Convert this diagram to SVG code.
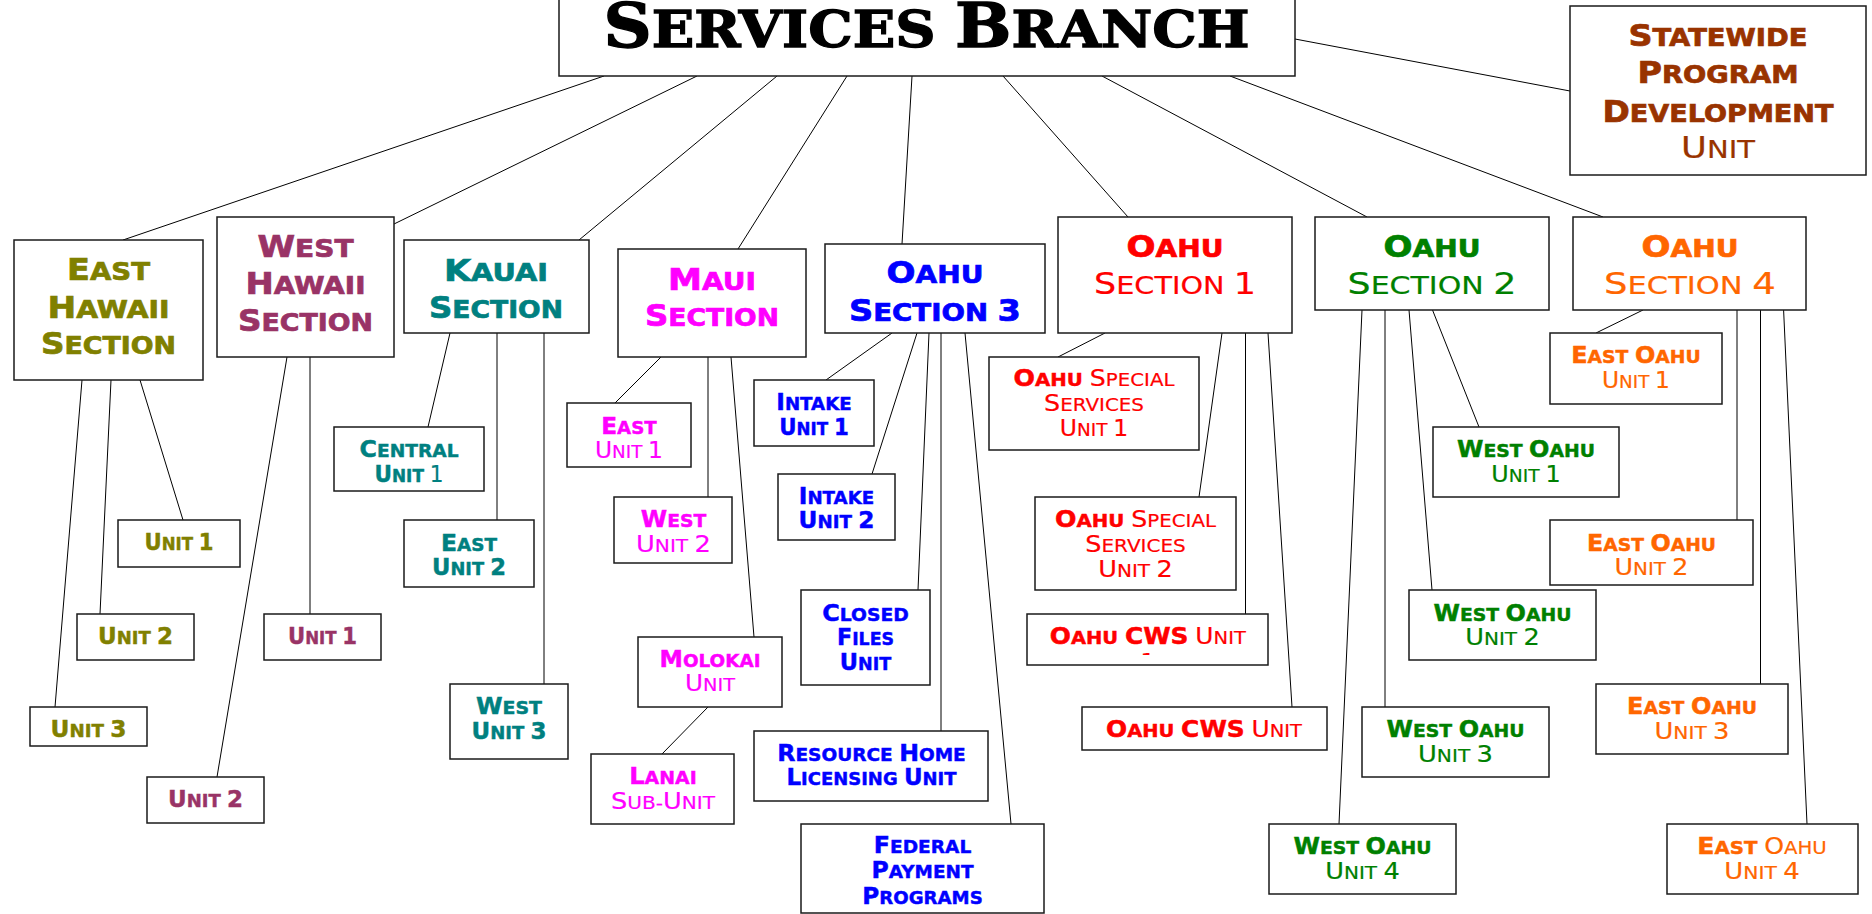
<svg xmlns="http://www.w3.org/2000/svg" width="1872" height="914" viewBox="0 0 1872 914">
<style>
text{font-family:"DejaVu Sans","Liberation Sans",sans-serif;font-weight:700;text-anchor:middle}
.t{font-family:"DejaVu Serif","Liberation Serif",serif;font-size:51px;fill:#000;stroke:#000;stroke-width:1.3}
.t .k{font-size:61px}
.s{font-size:24.5px;stroke-width:0.7}
.s .k{font-size:29.8px}
.u{font-size:18px;stroke-width:0.45}
.u .k{font-size:23px}
.r{font-weight:400;stroke-width:0.2}
.box{fill:#fff;stroke:#1a1a1a;stroke-width:1.5}
#connectors line{stroke:#000;stroke-width:1}
.ol{fill:#808000;stroke:#808000}.pl{fill:#993366;stroke:#993366}.tl{fill:#008080;stroke:#008080}.mg{fill:#FF00FF;stroke:#FF00FF}.bl{fill:#0000FF;stroke:#0000FF}.rd{fill:#FF0000;stroke:#FF0000}.gr{fill:#008000;stroke:#008000}.or{fill:#FF6600;stroke:#FF6600}.br{fill:#993300;stroke:#993300}
</style>
<defs>
<clipPath id="cwsclip"><rect x="1027" y="614" width="241" height="41"/></clipPath>
</defs>
<rect width="1872" height="914" fill="#fff"/>
<g id="connectors">
<line x1="604" y1="76" x2="123" y2="240"/>
<line x1="697" y1="76" x2="394" y2="224"/>
<line x1="777" y1="76" x2="579" y2="240"/>
<line x1="847" y1="76" x2="738" y2="249"/>
<line x1="912" y1="76" x2="902" y2="244"/>
<line x1="1003" y1="76" x2="1128" y2="217"/>
<line x1="1102" y1="76" x2="1367" y2="217"/>
<line x1="1230" y1="76" x2="1603" y2="217"/>
<line x1="1295" y1="39" x2="1570" y2="91"/>
<line x1="140" y1="380" x2="183" y2="520"/>
<line x1="111" y1="380" x2="100" y2="614"/>
<line x1="82" y1="380" x2="55" y2="707"/>
<line x1="310" y1="357" x2="310" y2="614"/>
<line x1="287" y1="357" x2="217" y2="777"/>
<line x1="450" y1="333" x2="428" y2="427"/>
<line x1="497" y1="333" x2="497" y2="520"/>
<line x1="544" y1="333" x2="544" y2="684"/>
<line x1="661" y1="357" x2="615" y2="403"/>
<line x1="708" y1="357" x2="708" y2="497"/>
<line x1="731" y1="357" x2="754" y2="637"/>
<line x1="708" y1="707" x2="662" y2="754"/>
<line x1="892" y1="333" x2="826" y2="380"/>
<line x1="917" y1="333" x2="872" y2="474"/>
<line x1="929" y1="333" x2="918" y2="590"/>
<line x1="941" y1="333" x2="941" y2="731"/>
<line x1="965" y1="333" x2="1011" y2="824"/>
<line x1="1105" y1="333" x2="1058" y2="357"/>
<line x1="1222" y1="333" x2="1199" y2="497"/>
<line x1="1245.5" y1="333" x2="1245.5" y2="614"/>
<line x1="1268" y1="333" x2="1292" y2="707"/>
<line x1="1432.5" y1="310" x2="1479" y2="427"/>
<line x1="1409" y1="310" x2="1432" y2="590"/>
<line x1="1385" y1="310" x2="1385" y2="707"/>
<line x1="1362" y1="310" x2="1339" y2="824"/>
<line x1="1643" y1="310" x2="1596" y2="333"/>
<line x1="1737" y1="310" x2="1737" y2="520"/>
<line x1="1760.5" y1="310" x2="1760.5" y2="684"/>
<line x1="1783.6" y1="310" x2="1807" y2="824"/>
</g>

<g id="services-branch">
<rect class="box" x="559" y="-5" width="736" height="81"/>
<text class="t" x="926.5" y="47" textLength="646" lengthAdjust="spacingAndGlyphs"><tspan class="k">S</tspan>ERVICES <tspan class="k">B</tspan>RANCH</text>
</g>

<g id="statewide">
<rect class="box" x="1570" y="6" width="296" height="169"/>
<text class="s br" x="1718" y="46" textLength="179" lengthAdjust="spacingAndGlyphs"><tspan class="k">S</tspan>TATEWIDE</text>
<text class="s br" x="1718" y="83" textLength="161" lengthAdjust="spacingAndGlyphs"><tspan class="k">P</tspan>ROGRAM</text>
<text class="s br" x="1718" y="122" textLength="231" lengthAdjust="spacingAndGlyphs"><tspan class="k">D</tspan>EVELOPMENT</text>
<text class="s br" x="1718" y="158" textLength="74" lengthAdjust="spacingAndGlyphs"><tspan class="r"><tspan class="k">U</tspan>NIT</tspan></text>
</g>

<g id="east-hawaii">
<rect class="box" x="14" y="240" width="189" height="140"/>
<text class="s ol" x="108.5" y="280" textLength="83" lengthAdjust="spacingAndGlyphs"><tspan class="k">E</tspan>AST</text>
<text class="s ol" x="108.5" y="318" textLength="122" lengthAdjust="spacingAndGlyphs"><tspan class="k">H</tspan>AWAII</text>
<text class="s ol" x="108.5" y="354" textLength="135" lengthAdjust="spacingAndGlyphs"><tspan class="k">S</tspan>ECTION</text>
</g>
<g id="west-hawaii">
<rect class="box" x="217" y="217" width="177" height="140"/>
<text class="s pl" x="305.5" y="257" textLength="96" lengthAdjust="spacingAndGlyphs"><tspan class="k">W</tspan>EST</text>
<text class="s pl" x="305.5" y="294" textLength="120" lengthAdjust="spacingAndGlyphs"><tspan class="k">H</tspan>AWAII</text>
<text class="s pl" x="305.5" y="331" textLength="135" lengthAdjust="spacingAndGlyphs"><tspan class="k">S</tspan>ECTION</text>
</g>
<g id="kauai">
<rect class="box" x="404" y="240" width="185" height="93"/>
<text class="s tl" x="496" y="281" textLength="104" lengthAdjust="spacingAndGlyphs"><tspan class="k">K</tspan>AUAI</text>
<text class="s tl" x="496" y="318" textLength="134" lengthAdjust="spacingAndGlyphs"><tspan class="k">S</tspan>ECTION</text>
</g>
<g id="maui">
<rect class="box" x="618" y="249" width="188" height="108"/>
<text class="s mg" x="712" y="290" textLength="88" lengthAdjust="spacingAndGlyphs"><tspan class="k">M</tspan>AUI</text>
<text class="s mg" x="712" y="326" textLength="134" lengthAdjust="spacingAndGlyphs"><tspan class="k">S</tspan>ECTION</text>
</g>
<g id="oahu-3">
<rect class="box" x="825" y="244" width="220" height="89"/>
<text class="s bl" x="935" y="283" textLength="97" lengthAdjust="spacingAndGlyphs"><tspan class="k">O</tspan>AHU</text>
<text class="s bl" x="935" y="321" textLength="172" lengthAdjust="spacingAndGlyphs"><tspan class="k">S</tspan>ECTION <tspan class="k">3</tspan></text>
</g>
<g id="oahu-1">
<rect class="box" x="1058" y="217" width="234" height="116"/>
<text class="s rd" x="1175" y="257" textLength="97" lengthAdjust="spacingAndGlyphs"><tspan class="k">O</tspan>AHU</text>
<text class="s rd" x="1175" y="294" textLength="162" lengthAdjust="spacingAndGlyphs"><tspan class="r"><tspan class="k">S</tspan>ECTION <tspan class="k">1</tspan></tspan></text>
</g>
<g id="oahu-2">
<rect class="box" x="1315" y="217" width="234" height="93"/>
<text class="s gr" x="1432" y="257" textLength="97" lengthAdjust="spacingAndGlyphs"><tspan class="k">O</tspan>AHU</text>
<text class="s gr" x="1432" y="294" textLength="169" lengthAdjust="spacingAndGlyphs"><tspan class="r"><tspan class="k">S</tspan>ECTION <tspan class="k">2</tspan></tspan></text>
</g>
<g id="oahu-4">
<rect class="box" x="1573" y="217" width="233" height="93"/>
<text class="s or" x="1690" y="257" textLength="97" lengthAdjust="spacingAndGlyphs"><tspan class="k">O</tspan>AHU</text>
<text class="s or" x="1690" y="294" textLength="172" lengthAdjust="spacingAndGlyphs"><tspan class="r"><tspan class="k">S</tspan>ECTION <tspan class="k">4</tspan></tspan></text>
</g>

<g id="eh-unit-1">
<rect class="box" x="118" y="520" width="122" height="47"/>
<text class="u ol" x="179" y="550" textLength="69" lengthAdjust="spacingAndGlyphs"><tspan class="k">U</tspan>NIT <tspan class="k">1</tspan></text>
</g>
<g id="eh-unit-2">
<rect class="box" x="77" y="614" width="117" height="46"/>
<text class="u ol" x="135.5" y="644" textLength="75" lengthAdjust="spacingAndGlyphs"><tspan class="k">U</tspan>NIT <tspan class="k">2</tspan></text>
</g>
<g id="eh-unit-3">
<rect class="box" x="30" y="707" width="117" height="39"/>
<text class="u ol" x="88.5" y="737" textLength="76" lengthAdjust="spacingAndGlyphs"><tspan class="k">U</tspan>NIT <tspan class="k">3</tspan></text>
</g>
<g id="wh-unit-1">
<rect class="box" x="264" y="614" width="117" height="46"/>
<text class="u pl" x="322.5" y="644" textLength="69" lengthAdjust="spacingAndGlyphs"><tspan class="k">U</tspan>NIT <tspan class="k">1</tspan></text>
</g>
<g id="wh-unit-2">
<rect class="box" x="147" y="777" width="117" height="46"/>
<text class="u pl" x="205.5" y="807" textLength="75" lengthAdjust="spacingAndGlyphs"><tspan class="k">U</tspan>NIT <tspan class="k">2</tspan></text>
</g>

<g id="kauai-central-1">
<rect class="box" x="334" y="427" width="150" height="64"/>
<text class="u tl" x="409" y="457" textLength="99" lengthAdjust="spacingAndGlyphs"><tspan class="k">C</tspan>ENTRAL</text>
<text class="u tl" x="409" y="482" textLength="69" lengthAdjust="spacingAndGlyphs"><tspan class="k">U</tspan>NIT <tspan class="k r">1</tspan></text>
</g>
<g id="kauai-east-2">
<rect class="box" x="404" y="520" width="130" height="67"/>
<text class="u tl" x="469" y="551" textLength="56" lengthAdjust="spacingAndGlyphs"><tspan class="k">E</tspan>AST</text>
<text class="u tl" x="469" y="575" textLength="74" lengthAdjust="spacingAndGlyphs"><tspan class="k">U</tspan>NIT <tspan class="k">2</tspan></text>
</g>
<g id="kauai-west-3">
<rect class="box" x="450" y="684" width="118" height="75"/>
<text class="u tl" x="509" y="714" textLength="66" lengthAdjust="spacingAndGlyphs"><tspan class="k">W</tspan>EST</text>
<text class="u tl" x="509" y="739" textLength="75" lengthAdjust="spacingAndGlyphs"><tspan class="k">U</tspan>NIT <tspan class="k">3</tspan></text>
</g>

<g id="maui-east-1">
<rect class="box" x="567" y="403" width="124" height="64"/>
<text class="u mg" x="629" y="433.5" textLength="55.5" lengthAdjust="spacingAndGlyphs"><tspan class="k">E</tspan>AST</text>
<text class="u mg" x="629" y="458" textLength="68" lengthAdjust="spacingAndGlyphs"><tspan class="r"><tspan class="k">U</tspan>NIT <tspan class="k">1</tspan></tspan></text>
</g>
<g id="maui-west-2">
<rect class="box" x="614" y="497" width="118" height="66"/>
<text class="u mg" x="673.5" y="527" textLength="65.5" lengthAdjust="spacingAndGlyphs"><tspan class="k">W</tspan>EST</text>
<text class="u mg" x="673.5" y="552" textLength="75" lengthAdjust="spacingAndGlyphs"><tspan class="r"><tspan class="k">U</tspan>NIT <tspan class="k">2</tspan></tspan></text>
</g>
<g id="molokai">
<rect class="box" x="638" y="637" width="144" height="70"/>
<text class="u mg" x="710" y="667" textLength="101" lengthAdjust="spacingAndGlyphs"><tspan class="k">M</tspan>OLOKAI</text>
<text class="u mg" x="710" y="691" textLength="50" lengthAdjust="spacingAndGlyphs"><tspan class="r"><tspan class="k">U</tspan>NIT</tspan></text>
</g>
<g id="lanai">
<rect class="box" x="591" y="754" width="143" height="70"/>
<text class="u mg" x="663" y="784" textLength="67.5" lengthAdjust="spacingAndGlyphs"><tspan class="k">L</tspan>ANAI</text>
<text class="u mg" x="663" y="809" textLength="104" lengthAdjust="spacingAndGlyphs"><tspan class="r"><tspan class="k">S</tspan>UB-<tspan class="k">U</tspan>NIT</tspan></text>
</g>

<g id="intake-1">
<rect class="box" x="754" y="380" width="120" height="66"/>
<text class="u bl" x="814" y="410" textLength="75.5" lengthAdjust="spacingAndGlyphs"><tspan class="k">I</tspan>NTAKE</text>
<text class="u bl" x="814" y="435" textLength="69.5" lengthAdjust="spacingAndGlyphs"><tspan class="k">U</tspan>NIT <tspan class="k">1</tspan></text>
</g>
<g id="intake-2">
<rect class="box" x="778" y="474" width="117" height="66"/>
<text class="u bl" x="836.5" y="504" textLength="75.5" lengthAdjust="spacingAndGlyphs"><tspan class="k">I</tspan>NTAKE</text>
<text class="u bl" x="836.5" y="528" textLength="76" lengthAdjust="spacingAndGlyphs"><tspan class="k">U</tspan>NIT <tspan class="k">2</tspan></text>
</g>
<g id="closed-files">
<rect class="box" x="801" y="590" width="129" height="95"/>
<text class="u bl" x="865.5" y="620.5" textLength="86.5" lengthAdjust="spacingAndGlyphs"><tspan class="k">C</tspan>LOSED</text>
<text class="u bl" x="865.5" y="645" textLength="57" lengthAdjust="spacingAndGlyphs"><tspan class="k">F</tspan>ILES</text>
<text class="u bl" x="865.5" y="670" textLength="51.5" lengthAdjust="spacingAndGlyphs"><tspan class="k">U</tspan>NIT</text>
</g>
<g id="resource-home">
<rect class="box" x="754" y="731" width="234" height="70"/>
<text class="u bl" x="871.5" y="761" textLength="188.5" lengthAdjust="spacingAndGlyphs"><tspan class="k">R</tspan>ESOURCE <tspan class="k">H</tspan>OME</text>
<text class="u bl" x="871.5" y="785" textLength="170" lengthAdjust="spacingAndGlyphs"><tspan class="k">L</tspan>ICENSING <tspan class="k">U</tspan>NIT</text>
</g>
<g id="federal-payment">
<rect class="box" x="801" y="824" width="243" height="89"/>
<text class="u bl" x="922.5" y="853" textLength="97.5" lengthAdjust="spacingAndGlyphs"><tspan class="k">F</tspan>EDERAL</text>
<text class="u bl" x="922.5" y="878" textLength="102" lengthAdjust="spacingAndGlyphs"><tspan class="k">P</tspan>AYMENT</text>
<text class="u bl" x="922.5" y="903.5" textLength="120.5" lengthAdjust="spacingAndGlyphs"><tspan class="k">P</tspan>ROGRAMS</text>
</g>

<g id="special-1">
<rect class="box" x="989" y="357" width="210" height="93"/>
<text class="u rd" x="1094" y="386" textLength="161" lengthAdjust="spacingAndGlyphs"><tspan class="k">O</tspan>AHU <tspan class="r"><tspan class="k">S</tspan>PECIAL</tspan></text>
<text class="u rd" x="1094" y="411" textLength="100" lengthAdjust="spacingAndGlyphs"><tspan class="r"><tspan class="k">S</tspan>ERVICES</tspan></text>
<text class="u rd" x="1094" y="435.5" textLength="68.5" lengthAdjust="spacingAndGlyphs"><tspan class="r"><tspan class="k">U</tspan>NIT <tspan class="k">1</tspan></tspan></text>
</g>
<g id="special-2">
<rect class="box" x="1035" y="497" width="201" height="93"/>
<text class="u rd" x="1135.5" y="527" textLength="161" lengthAdjust="spacingAndGlyphs"><tspan class="k">O</tspan>AHU <tspan class="r"><tspan class="k">S</tspan>PECIAL</tspan></text>
<text class="u rd" x="1135.5" y="552" textLength="100.5" lengthAdjust="spacingAndGlyphs"><tspan class="r"><tspan class="k">S</tspan>ERVICES</tspan></text>
<text class="u rd" x="1135.5" y="576.5" textLength="74.5" lengthAdjust="spacingAndGlyphs"><tspan class="r"><tspan class="k">U</tspan>NIT <tspan class="k">2</tspan></tspan></text>
</g>
<g id="cws-1">
<rect class="box" x="1027" y="614" width="241" height="51"/>
<text class="u rd" x="1147.8" y="644" textLength="196" lengthAdjust="spacingAndGlyphs"><tspan class="k">O</tspan>AHU <tspan class="k">CWS</tspan> <tspan class="r"><tspan class="k">U</tspan>NIT</tspan></text>
<text class="u rd r" x="1147.8" y="669.5" clip-path="url(#cwsclip)"><tspan class="k">1</tspan></text>
</g>
<g id="cws">
<rect class="box" x="1082" y="707" width="245" height="43"/>
<text class="u rd" x="1204" y="736.6" textLength="196" lengthAdjust="spacingAndGlyphs"><tspan class="k">O</tspan>AHU <tspan class="k">CWS</tspan> <tspan class="r"><tspan class="k">U</tspan>NIT</tspan></text>
</g>

<g id="west-oahu-1">
<rect class="box" x="1433" y="427" width="186" height="70"/>
<text class="u gr" x="1526" y="457.4" textLength="138" lengthAdjust="spacingAndGlyphs"><tspan class="k">W</tspan>EST <tspan class="k">O</tspan>AHU</text>
<text class="u gr" x="1526" y="482" textLength="69.5" lengthAdjust="spacingAndGlyphs"><tspan class="r"><tspan class="k">U</tspan>NIT <tspan class="k">1</tspan></tspan></text>
</g>
<g id="west-oahu-2">
<rect class="box" x="1409" y="590" width="187" height="70"/>
<text class="u gr" x="1502.5" y="621" textLength="138" lengthAdjust="spacingAndGlyphs"><tspan class="k">W</tspan>EST <tspan class="k">O</tspan>AHU</text>
<text class="u gr" x="1502.5" y="645.3" textLength="74.5" lengthAdjust="spacingAndGlyphs"><tspan class="r"><tspan class="k">U</tspan>NIT <tspan class="k">2</tspan></tspan></text>
</g>
<g id="west-oahu-3">
<rect class="box" x="1362" y="707" width="187" height="70"/>
<text class="u gr" x="1455.5" y="737.4" textLength="138" lengthAdjust="spacingAndGlyphs"><tspan class="k">W</tspan>EST <tspan class="k">O</tspan>AHU</text>
<text class="u gr" x="1455.5" y="762" textLength="75" lengthAdjust="spacingAndGlyphs"><tspan class="r"><tspan class="k">U</tspan>NIT <tspan class="k">3</tspan></tspan></text>
</g>
<g id="west-oahu-4">
<rect class="box" x="1269" y="824" width="187" height="70"/>
<text class="u gr" x="1362.5" y="854.4" textLength="138" lengthAdjust="spacingAndGlyphs"><tspan class="k">W</tspan>EST <tspan class="k">O</tspan>AHU</text>
<text class="u gr" x="1362.5" y="878.7" textLength="74.5" lengthAdjust="spacingAndGlyphs"><tspan class="r"><tspan class="k">U</tspan>NIT <tspan class="k">4</tspan></tspan></text>
</g>

<g id="east-oahu-1">
<rect class="box" x="1550" y="333" width="172" height="71"/>
<text class="u or" x="1636" y="363.4" textLength="129.5" lengthAdjust="spacingAndGlyphs"><tspan class="k">E</tspan>AST <tspan class="k">O</tspan>AHU</text>
<text class="u or" x="1636" y="388" textLength="68" lengthAdjust="spacingAndGlyphs"><tspan class="r"><tspan class="k">U</tspan>NIT <tspan class="k">1</tspan></tspan></text>
</g>
<g id="east-oahu-2">
<rect class="box" x="1550" y="520" width="203" height="65"/>
<text class="u or" x="1651.5" y="550.6" textLength="129" lengthAdjust="spacingAndGlyphs"><tspan class="k">E</tspan>AST <tspan class="k">O</tspan>AHU</text>
<text class="u or" x="1651.5" y="575" textLength="74" lengthAdjust="spacingAndGlyphs"><tspan class="r"><tspan class="k">U</tspan>NIT <tspan class="k">2</tspan></tspan></text>
</g>
<g id="east-oahu-3">
<rect class="box" x="1596" y="684" width="192" height="70"/>
<text class="u or" x="1692" y="714" textLength="130" lengthAdjust="spacingAndGlyphs"><tspan class="k">E</tspan>AST <tspan class="k">O</tspan>AHU</text>
<text class="u or" x="1692" y="738.5" textLength="75" lengthAdjust="spacingAndGlyphs"><tspan class="r"><tspan class="k">U</tspan>NIT <tspan class="k">3</tspan></tspan></text>
</g>
<g id="east-oahu-4">
<rect class="box" x="1667" y="824" width="191" height="70"/>
<text class="u or" x="1762" y="854.4" textLength="129.5" lengthAdjust="spacingAndGlyphs"><tspan class="k">E</tspan>AST <tspan class="r"><tspan class="k">O</tspan>AHU</tspan></text>
<text class="u or" x="1762" y="878.7" textLength="75.5" lengthAdjust="spacingAndGlyphs"><tspan class="r"><tspan class="k">U</tspan>NIT <tspan class="k">4</tspan></tspan></text>
</g>
</svg>
